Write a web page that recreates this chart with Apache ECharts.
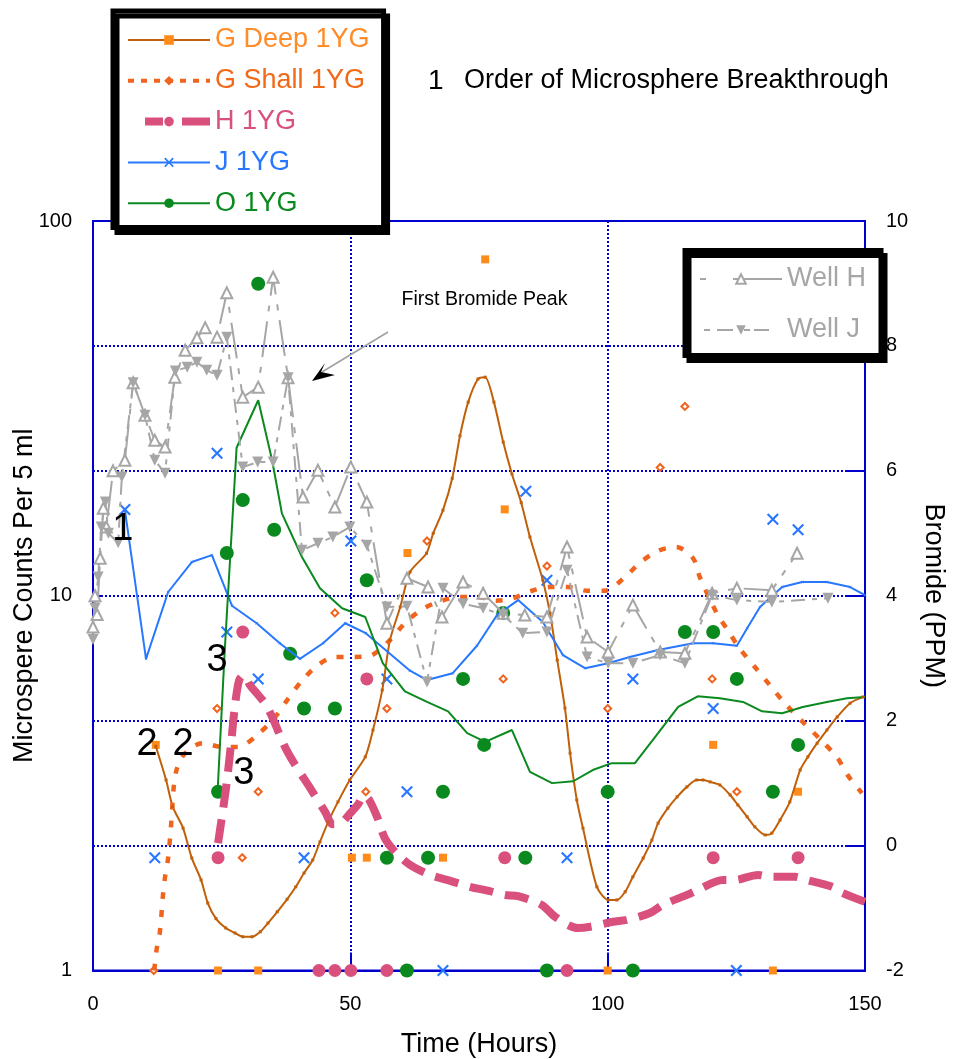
<!DOCTYPE html>
<html>
<head>
<meta charset="utf-8">
<title>Microsphere and Bromide Breakthrough</title>
<script src="https://cdn.jsdelivr.net/npm/echarts@6/dist/echarts.min.js"></script>
<style>
  html, body { margin: 0; padding: 0; background: #fff; }
  #chart { width: 957px; height: 1059px; }
</style>
</head>
<body>
<div id="chart"></div>
<script>
// ---- axis ticks ----
const timeTicks = [0, 50, 100, 150];
const countTicks = [1, 10, 100];
const bromideTicks = [-2, 0, 2, 4, 6, 8, 10];

// ---- bromide curves, [time (h), bromide (PPM)] ----
const gDeepBromide = [[12.2,1.59],[14.2,1.05],[15.5,0.62],[17.5,0.28],[19.2,-0.2],[21.0,-0.55],[22.3,-0.92],[23.9,-1.17],[25.8,-1.32],[27.6,-1.40],[29.1,-1.46],[30.9,-1.46],[32.5,-1.38],[34.0,-1.24],[35.8,-1.06],[37.7,-0.86],[39.4,-0.66],[41.0,-0.44],[42.7,-0.23],[44.1,0.06],[45.7,0.38],[47.6,0.70],[49.9,1.05],[52.9,1.42],[54.4,1.85],[56.2,2.49],[57.7,3.29],[59.7,3.82],[61.6,4.38],[64.8,4.68],[66.1,5.0],[68.0,5.37],[69.8,5.88],[71.3,6.56],[72.9,7.10],[74.8,7.47],[76.2,7.50],[77.9,7.10],[79.7,6.46],[81.4,5.95],[83.2,5.49],[84.9,4.94],[87.4,4.25],[88.8,3.72],[90.2,2.97],[91.7,2.20],[92.7,1.48],[94.0,0.73],[95.2,0.28],[97.9,-0.66],[100.1,-0.87],[101.8,-0.87],[103.4,-0.74],[104.9,-0.50],[106.9,-0.20],[108.6,0.09],[109.8,0.36],[111.7,0.60],[113.5,0.78],[115.4,0.94],[117.3,1.05],[118.5,1.05],[119.9,1.02],[121.8,0.97],[123.8,0.81],[125.3,0.65],[127.1,0.46],[128.6,0.30],[130.6,0.17],[131.9,0.20],[133.5,0.41],[135.4,0.70],[137.4,1.21],[138.9,1.42],[140.7,1.64],[142.6,1.85],[144.6,2.06],[147.1,2.28],[149.6,2.38]];
const gShallBromide = [[11.9,-2.0],[12.4,-1.64],[13.0,-1.38],[13.6,-0.79],[14.0,-0.50],[14.6,-0.20],[15.2,0.36],[15.7,0.95],[16.3,1.23],[17.9,1.48],[21.2,1.64],[25.1,1.58],[28.2,1.58],[31.9,1.77],[35.4,2.06],[37.9,2.35],[40.6,2.64],[43.7,2.89],[47.0,3.02],[50.9,3.02],[54.2,3.05],[57.7,3.29],[60.8,3.58],[64.3,3.80],[67.8,3.92],[71.3,3.98],[74.8,3.98],[78.3,3.92],[81.6,3.96],[85.3,4.08],[88.8,4.14],[92.3,4.14],[96.0,4.08],[99.5,4.08],[103.0,4.27],[106.3,4.53],[109.8,4.72],[113.3,4.78],[116.6,4.60],[117.9,4.30],[121.2,3.72],[123.4,3.44],[125.7,3.15],[128.6,2.86],[131.5,2.57],[134.4,2.28],[137.9,1.98],[141.2,1.71],[144.5,1.42],[146.7,1.12],[149.4,0.84]];
const hBromide = [[24.3,0.04],[25.8,0.89],[26.8,1.61],[27.6,2.25],[28.4,2.65],[29.3,2.73],[30.5,2.57],[32.1,2.41],[33.4,2.28],[34.8,2.06],[37.3,1.58],[39.3,1.29],[42.2,0.92],[45.1,0.54],[46.6,0.34],[48.2,0.36],[50.0,0.52],[51.5,0.66],[52.6,0.80],[53.6,0.74],[55.2,0.46],[56.7,0.12],[58.7,-0.10],[61.6,-0.31],[65.5,-0.47],[68.8,-0.55],[73.2,-0.66],[77.1,-0.73],[80.0,-0.79],[82.6,-0.81],[87.2,-0.95],[89.8,-1.14],[94.2,-1.32],[96.6,-1.30],[101.0,-1.22],[103.7,-1.19],[108.2,-1.08],[110.7,-0.95],[115.4,-0.79],[117.5,-0.71],[122.4,-0.55],[124.7,-0.55],[129.2,-0.47],[131.5,-0.50],[136.4,-0.50],[138.7,-0.55],[143.6,-0.66],[145.7,-0.76],[150,-0.90]];
const jBromide = [[6.2,5.37],[10.3,2.99],[14.6,4.06],[19.2,4.54],[23.1,4.65],[27.0,3.84],[31.8,3.56],[36.3,3.24],[40.2,2.99],[44.7,3.24],[49.0,3.56],[53.0,3.40],[57.3,3.10],[61.6,2.80],[64.9,2.65],[69.9,2.76],[74.6,3.20],[78.5,3.69],[82.6,3.93],[87.4,3.58],[91.3,3.05],[95.6,2.84],[100.1,2.92],[104.3,3.02],[109.8,3.13],[116.6,3.24],[120.5,3.24],[125.1,3.20],[127.1,3.48],[129.6,3.82],[133.9,4.14],[137.8,4.22],[142.6,4.22],[147.1,4.14],[150,4.01]];
const oBromide = [[24.2,0.85],[25.6,3.13],[27.9,6.37],[32.1,7.13],[34.8,6.17],[36.7,5.32],[40.6,4.62],[44.1,4.12],[48.4,3.80],[52.9,3.66],[56.3,2.92],[60.6,2.47],[64.9,2.30],[69.0,2.15],[72.7,1.80],[76.2,1.66],[81.4,1.85],[84.9,1.18],[89.2,1.00],[93.3,1.03],[97.1,1.21],[100.8,1.32],[105.3,1.32],[109.8,1.80],[113.7,2.22],[117.5,2.39],[121.8,2.36],[126.3,2.30],[130.0,2.15],[133.9,2.12],[137.9,2.22],[142.6,2.30],[146.5,2.36],[150,2.38]];
const wellH = [[0.0,3.5],[0.4,4.0],[0.8,3.7],[1.4,4.6],[2.0,5.4],[2.6,5.1],[3.9,6.0],[6.2,6.17],[7.8,7.41],[10.1,6.89],[12.0,6.49],[14.0,6.38],[15.9,7.50],[17.9,7.93],[20.2,8.13],[21.8,8.29],[24.1,8.14],[26.0,8.85],[29.1,7.18],[32.1,7.34],[35.0,9.10],[37.9,7.49],[40.8,5.58],[43.7,6.01],[47.0,5.42],[50.1,6.06],[53.2,5.50],[57.1,3.56],[61.0,4.28],[65.1,4.14],[67.8,3.66],[71.9,4.22],[75.8,4.04],[79.7,3.72],[83.9,3.69],[88.2,3.66],[92.1,4.78],[96.0,3.34],[100.1,3.10],[104.9,3.85],[110.2,3.10],[115.0,3.08],[120.3,4.04],[125.1,4.12],[131.9,4.09],[136.8,4.68]];
const wellJ = [[0.0,3.3],[0.4,3.8],[1.0,4.3],[1.6,5.1],[2.4,5.5],[3.0,5.0],[4.9,4.85],[5.6,5.9],[7.8,7.41],[10.1,6.89],[12.0,6.17],[14.0,5.96],[16.0,7.60],[18.3,7.66],[20.2,7.74],[22.1,7.61],[24.1,7.53],[26.0,8.14],[29.1,6.06],[32.0,6.14],[35.0,6.14],[37.9,7.49],[40.6,4.73],[43.7,4.84],[46.6,4.94],[49.9,5.10],[53.2,4.81],[57.1,3.82],[61.0,3.83],[64.9,2.62],[68.0,4.12],[71.9,3.87],[75.8,3.80],[79.7,3.69],[83.5,3.40],[88.2,3.42],[92.1,4.41],[96.0,3.02],[100.1,2.92],[104.9,2.92],[110.2,3.05],[115.0,2.92],[120.3,4.01],[125.1,3.93],[131.9,3.90],[142.8,3.96]];

// ---- microsphere counts per 5 ml, [time (h), count] ----
const gDeepCounts = [[12.2,4],[24.3,1],[32.1,1],[50.3,2],[53.2,2],[61.1,13],[68.0,2],[76.2,79],[80.0,17],[100.0,1],[120.5,4],[132.1,1],[137.0,3]];
const gShallCounts = [[11.8,1],[24.1,5],[29.0,2],[32.1,3],[47.0,9],[53.0,3],[57.1,5],[64.9,14],[79.7,6],[88.2,12],[100.0,5],[110.2,22],[115.0,32],[120.3,6],[125.1,3]];
const hCounts = [[24.3,2],[29.1,8],[43.9,1],[47.0,1],[50.1,1],[53.2,6],[57.1,1],[80.0,2],[92.1,1],[120.5,2],[137.0,2]];
const jCounts = [[6.2,17],[12.0,2],[24.1,24],[26.0,8],[32.1,6],[41.0,2],[50.1,14],[57.1,6],[61.0,3],[68.0,1],[84.1,19],[88.2,11],[92.1,2],[104.9,6],[120.5,5],[125.0,1],[132.1,16],[137.0,15]];
const oCounts = [[24.3,3],[26.0,13],[29.1,18],[32.1,68],[35.2,15],[38.3,7],[41.0,5],[47.0,5],[53.2,11],[57.1,2],[61.0,1],[65.1,2],[68.0,3],[71.9,6],[76.0,4],[79.7,9],[84.0,2],[88.2,1],[100.0,3],[104.9,1],[115.0,8],[120.5,8],[125.1,6],[132.1,3],[137.0,4]];

// ---- breakthrough order marks, [label, time (h), count] ----
const breakthroughOrder = [['1',5.8,15.0],['2',10.5,4.0],['2',17.5,4.0],['3',24.1,6.7],['3',29.3,3.35]];

// ---- styling ----
const FONT = '"Liberation Sans", Arial, Helvetica, sans-serif';
const BLUE = '#0000cc';
const GRAY = '#a6a6a6';
const C_GDEEP_LINE = '#c0600a';
const C_GDEEP = '#ff8c1a';
const C_GSHALL = '#f0641e';
const C_H = '#d9507c';
const C_J = '#2878ff';
const C_O = '#0a8a1e';
const X_MARK = 'path://M0,1.5L1.5,0L6,4.5L10.5,0L12,1.5L7.5,6L12,10.5L10.5,12L6,7.5L1.5,12L0,10.5L4.5,6Z';
const DOTTED = { color: BLUE, width: 2, type: [2, 2] };

function bromideLine(name, data, color, opts) {
  return Object.assign({
    name, type: 'line', yAxisIndex: 1, data, color,
    z: 3, showAllSymbol: true, animation: false,
    lineStyle: { color, width: 2 },
    itemStyle: { color },
    emphasis: { disabled: true }
  }, opts);
}
function countPoints(name, data, color, symbol, size, opts) {
  return Object.assign({
    name, type: 'scatter', yAxisIndex: 0, data, color, symbol, symbolSize: size,
    z: 2, clip: false, animation: false,
    itemStyle: { color, opacity: 1 },
    emphasis: { disabled: true }
  }, opts);
}

const legendBox = {
  orient: 'vertical', selectedMode: false,
  itemWidth: 82, itemHeight: 12,
  backgroundColor: '#fff', borderColor: '#000', borderWidth: 5, borderRadius: 0,
  shadowColor: '#000', shadowBlur: 0, shadowOffsetX: 4, shadowOffsetY: 5,
  itemStyle: { borderWidth: 0 },
  textStyle: { fontFamily: FONT, fontSize: 27, lineHeight: 30 }
};

const option = {
  animation: false,
  backgroundColor: '#fff',
  grid: {
    left: 93, right: 92, top: 221, bottom: 88.5,
    containLabel: false, outerBoundsMode: 'none',
    show: true, borderColor: BLUE, borderWidth: 2, backgroundColor: 'transparent'
  },
  xAxis: {
    type: 'value', min: timeTicks[0], max: timeTicks[timeTicks.length - 1], interval: timeTicks[1] - timeTicks[0],
    name: 'Time (Hours)', nameLocation: 'middle', nameGap: 61, nameMoveOverlap: false,
    nameTextStyle: { fontFamily: FONT, fontSize: 27, color: '#000' },
    axisLine: { show: true, onZero: false, lineStyle: { color: BLUE, width: 2 } },
    axisTick: { show: true, inside: true, length: 18, lineStyle: { color: BLUE, width: 2 } },
    axisLabel: { fontFamily: FONT, fontSize: 20, color: '#000', margin: 24 },
    splitLine: { show: true, lineStyle: DOTTED }
  },
  yAxis: [
    {
      type: 'log', logBase: 10, min: countTicks[0], max: countTicks[countTicks.length - 1], position: 'left',
      name: 'Microspere Counts Per 5 ml', nameLocation: 'middle', nameGap: 55, nameRotate: 90, nameMoveOverlap: false,
      nameTextStyle: { fontFamily: FONT, fontSize: 27, color: '#000' },
      axisLine: { show: true, onZero: false, lineStyle: { color: BLUE, width: 2 } },
      axisTick: { show: true, inside: true, length: 10, lineStyle: { color: BLUE, width: 2 } },
      axisLabel: { fontFamily: FONT, fontSize: 20, color: '#000', margin: 21 },
      splitLine: { show: false }, minorTick: { show: false }
    },
    {
      type: 'value', min: bromideTicks[0], max: bromideTicks[bromideTicks.length - 1], interval: bromideTicks[1] - bromideTicks[0], position: 'right',
      name: 'Bromide (PPM)', nameLocation: 'middle', nameGap: 55, nameRotate: -90, nameMoveOverlap: false,
      nameTextStyle: { fontFamily: FONT, fontSize: 27, color: '#000' },
      axisLine: { show: true, onZero: false, lineStyle: { color: BLUE, width: 2 } },
      axisTick: { show: true, inside: true, length: 18, lineStyle: { color: BLUE, width: 2 } },
      axisLabel: { fontFamily: FONT, fontSize: 20, color: '#000', margin: 21 },
      splitLine: { show: true, lineStyle: DOTTED }
    }
  ],
  legend: [
    Object.assign({}, legendBox, {
      left: 113, top: 11, padding: [14, 14, 9.3, 11], itemGap: 10.8,
      data: [
        { name: 'G Deep 1YG', textStyle: { color: '#ff8c28' }, itemStyle: { color: C_GDEEP, borderWidth: 0 } },
        { name: 'G Shall 1YG', textStyle: { color: '#f06a1a' }, lineStyle: { width: 4, type: [6, 7] } },
        { name: 'H 1YG', textStyle: { color: C_H }, lineStyle: { width: 8, type: [0, 17, 18, 19, 28] } },
        { name: 'J 1YG', textStyle: { color: C_J } },
        { name: 'O 1YG', textStyle: { color: C_O } }
      ]
    }),
    Object.assign({}, legendBox, {
      left: 685, top: 250.5, padding: [13.5, 15, 10.5, 14], itemGap: 21,
      textStyle: { fontFamily: FONT, fontSize: 27, lineHeight: 30, color: GRAY },
      data: [
        { name: 'Well H', lineStyle: { type: [6, 27, 50] } },
        { name: 'Well J', lineStyle: { type: [0, 4, 6, 7, 16, 11, 6, 4, 15, 13] } }
      ]
    })
  ],
  series: [
    bromideLine('G Deep 1YG', gDeepBromide, C_GDEEP_LINE, { smooth: 0.25, symbol: 'rect', symbolSize: 3 }),
    bromideLine('G Shall 1YG', gShallBromide, C_GSHALL, { smooth: 0.3, symbol: 'diamond', showSymbol: false, lineStyle: { color: C_GSHALL, width: 4.5, type: [7, 11], cap: 'butt' } }),
    bromideLine('H 1YG', hBromide, C_H, { smooth: 0.3, symbol: 'circle', showSymbol: false, lineStyle: { color: C_H, width: 8, type: [24, 12], cap: 'butt' } }),
    bromideLine('J 1YG', jBromide, C_J, { symbol: X_MARK, symbolSize: 3 }),
    bromideLine('O 1YG', oBromide, C_O, { symbol: 'circle', showSymbol: false }),
    bromideLine('Well H', wellH, GRAY, { z: 4, symbol: 'emptyTriangle', symbolSize: 11, lineStyle: { color: GRAY, width: 2, type: [36, 10, 6, 10] } }),
    bromideLine('Well J', wellJ, GRAY, { z: 4, symbol: 'triangle', symbolRotate: 180, symbolSize: 11, lineStyle: { color: GRAY, width: 2, type: [14, 7, 5, 7] } }),
    countPoints('G Deep 1YG', gDeepCounts, C_GDEEP, 'rect', 8),
    countPoints('G Shall 1YG', gShallCounts, C_GSHALL, 'emptyDiamond', 7),
    countPoints('H 1YG', hCounts, C_H, 'circle', 13),
    countPoints('J 1YG', jCounts, C_J, X_MARK, 12),
    countPoints('O 1YG', oCounts, C_O, 'circle', 14)
  ]
};

const chart = echarts.init(document.getElementById('chart'), null, { renderer: 'canvas' });
chart.setOption(option);

// annotations: key text, bromide-peak callout and breakthrough order digits
const textStyle = (text, size, extra) => Object.assign({ text, fontFamily: FONT, fontSize: size, fill: '#000' }, extra);
const graphics = [
  { type: 'text', x: 428, y: 81, z: 100, style: textStyle('1', 28, { verticalAlign: 'middle' }) },
  { type: 'text', x: 464, y: 81, z: 100, style: textStyle('Order of Microsphere Breakthrough', 27, { verticalAlign: 'middle' }) },
  { type: 'text', x: 484.5, y: 300, z: 100, style: textStyle('First Bromide Peak', 19.5, { align: 'center', verticalAlign: 'middle' }) },
  { type: 'line', z: 100, shape: { x1: 388, y1: 332, x2: 322, y2: 372 }, style: { stroke: '#a0a0a0', lineWidth: 1.5 } },
  { type: 'polygon', z: 100, shape: { points: [[312, 381], [335, 375], [321, 372], [325, 363]] }, style: { fill: '#000' } }
];
breakthroughOrder.forEach(([label, t, n]) => {
  const p = chart.convertToPixel({ xAxisIndex: 0, yAxisIndex: 0 }, [t, n]);
  graphics.push({ type: 'text', x: p[0], y: p[1], z: 100, style: textStyle(label, 38, { align: 'center', verticalAlign: 'middle' }) });
});
chart.setOption({ graphic: graphics });
</script>
</body>
</html>
